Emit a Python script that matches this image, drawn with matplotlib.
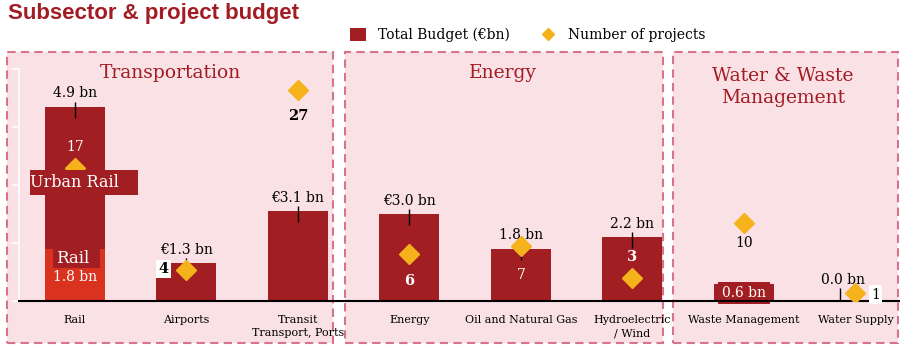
import matplotlib
matplotlib.use("Agg")
import matplotlib.pyplot as plt
from matplotlib.patches import Rectangle, Patch
from matplotlib.lines import Line2D

# ---------------- data ----------------
categories = ["Rail", "Airports", "Transit\nTransport, Ports", "Energy",
              "Oil and Natural Gas", "Hydroelectric\n/ Wind", "Waste Management", "Water Supply"]
rail_budget = [1.8, 0, 0, 0, 0, 0, 0, 0]            # bottom "Rail" segment (€bn)
budget = [4.9, 1.3, 3.1, 3.0, 1.8, 2.2, 0.6, 0.0]   # Total Budget (€bn)
budget_labels = ["4.9 bn", "€1.3 bn", "€3.1 bn", "€3.0 bn", "1.8 bn", "2.2 bn", "0.6 bn", "0.0 bn"]
projects = [17, 4, 27, 6, 7, 3, 10, 1]
groups = ["Transportation", "Energy", "Water & Waste\nManagement"]

# ---------------- style ----------------
DARK = "#a11e22"
BRIGHT = "#d9321f"
GOLD = "#f6b21a"
PINK = "#f9e1e6"
DASH = "#d67489"
TITLE = "#a31c23"
SERIF = "DejaVu Serif"

W, H = 900, 352
def fx(px): return px / W
def fy(py): return 1 - py / H

fig = plt.figure(figsize=(9, 3.52), dpi=100)
fig.patch.set_facecolor("white")

# group boxes
boxes = [(7, 333), (345, 663), (673, 898)]
for (x0, x1) in boxes:
    fig.patches.append(Rectangle((fx(x0), fy(343)), fx(x1) - fx(x0), fy(52) - fy(343),
                                 transform=fig.transFigure, facecolor=PINK, edgecolor=DASH,
                                 lw=1.5, ls=(0, (4, 2.5)), zorder=-5))
for g, (px, py) in zip(groups, [(170, 73), (503, 73), (783, 87)]):
    fig.text(fx(px), fy(py), g, ha="center", va="center", family=SERIF, fontsize=13.5,
             color=TITLE, linespacing=1.25)

fig.text(fx(8), fy(14), "Subsector & project budget", family="Liberation Sans",
         fontweight="bold", fontsize=16, color=TITLE, va="center", ha="left")

# axes
ax = fig.add_axes([fx(19), fy(301), (W - 19) / W, 232 / H])
ax.set_zorder(1)
ax.patch.set_alpha(0)
ax.set_xlim(-0.5, 7.4)
ax.set_ylim(0, 8)
ax2 = ax.twinx()
ax2.set_zorder(2)
ax2.set_ylim(0, 29.7)
ax2.axis("off")

for s in ["top", "right"]:
    ax.spines[s].set_visible(False)
ax.spines["left"].set_color("white")
ax.spines["left"].set_linewidth(1.2)
ax.spines["bottom"].set_color("black")
ax.spines["bottom"].set_linewidth(1.5)
ax.spines["bottom"].set_zorder(5)
ax.set_yticks([0, 2, 4, 6, 8])
ax.tick_params(axis="y", colors="white", length=5, width=1.2, labelleft=False)
x = list(range(len(categories)))
ax.set_xticks(x)
ax.set_xticklabels(categories, family=SERIF, fontsize=8, linespacing=1.45)
ax.tick_params(axis="x", length=0, pad=10)

bw = 0.54
ax.bar(x, rail_budget, width=bw, color=BRIGHT, zorder=2)
ax.bar(x, budget, width=bw, bottom=rail_budget, color=DARK, zorder=2)

# budget labels
ppb = 232 / 8  # px per bn
for i, (lab, b, r) in enumerate(zip(budget_labels, budget, rail_budget)):
    top = b + r
    if i == 6:
        ax.text(i, top / 2 - 0.02, lab, ha="center", va="center", family=SERIF, fontsize=10,
                color="white", zorder=4,
                bbox=dict(boxstyle="square,pad=0.3", fc=DARK, ec="none"))
        continue
    if i == 7:
        ax.vlines(i - 15 / 111.5, 0.03, 13 / ppb, color="black", lw=1, zorder=4)
        ax.annotate(lab, (i, top), xytext=(-9, 15), textcoords="offset points",
                    ha="center", va="center", family=SERIF, fontsize=10, zorder=4)
        continue
    ax.vlines(i, top - 11 / ppb, top + 5 / ppb, color="black", lw=1, zorder=4)
    ax.annotate(lab, (i, top), xytext=(0, 9.6), textcoords="offset points",
                ha="center", va="center", family=SERIF, fontsize=10, zorder=4)

# project diamonds
ax2.plot(x, projects, ls="none", marker="D", ms=9.7, color=GOLD, mec=GOLD, zorder=3)

proj_style = [
    dict(off=(0, 15), color="white", weight="normal", box=False),
    dict(off=(-16.5, 0.5), color="black", weight="bold", box=True),
    dict(off=(0, -19), color="black", weight="bold", box=False),
    dict(off=(0, -19), color="white", weight="bold", box=False),
    dict(off=(0, -21), color="white", weight="normal", box=False),
    dict(off=(0, 14.5), color="white", weight="bold", box=False),
    dict(off=(0, -14.5), color="black", weight="normal", box=False),
    dict(off=(14.5, -1), color="black", weight="normal", box=True),
]
for i, (p, st) in enumerate(zip(projects, proj_style)):
    kw = {}
    if st["box"]:
        kw["bbox"] = dict(boxstyle="square,pad=0.15", fc="white", ec="none")
    ax2.annotate(str(p), (i, p), xytext=st["off"], textcoords="offset points",
                 ha="center", va="center", family=SERIF, fontsize=10.5 if st["weight"] == "bold" else 10,
                 fontweight=st["weight"], color=st["color"], zorder=6, **kw)

# Rail sub-labels
ax2.add_patch(Rectangle((0 - 0.40, 3.66), 0.97, 0.86, transform=ax.transData,
                        facecolor=DARK, edgecolor="none", zorder=5, clip_on=False))
ax2.text(0, 4.09, "Urban Rail", transform=ax.transData, ha="center", va="center",
         family=SERIF, fontsize=11.5, color="white", zorder=6)
ax2.add_patch(Rectangle((0 - 0.196, 1.14), 0.42, 0.69, transform=ax.transData,
                        facecolor=DARK, edgecolor="none", zorder=5, clip_on=False))
ax2.text(-0.02, 1.48, "Rail", transform=ax.transData, ha="center", va="center",
         family=SERIF, fontsize=12, color="white", zorder=6)
ax2.text(0, rail_budget[0] * 0.46, "1.8 bn", transform=ax.transData, ha="center", va="center",
         family=SERIF, fontsize=10, color="white", zorder=6)

# legend
handles = [Patch(facecolor=DARK, edgecolor="none", label="Total Budget (€bn)"),
           Line2D([], [], ls="none", marker="D", ms=6.5, color=GOLD, label="Number of projects")]
fig.legend(handles=handles, loc="center", bbox_to_anchor=(fx(528), fy(35)), ncol=2,
           frameon=False, prop=dict(family=SERIF, size=10), handlelength=1.1,
           handleheight=1.0, columnspacing=2.2, handletextpad=0.9)

fig.savefig("out.png", dpi=100, facecolor="white")
